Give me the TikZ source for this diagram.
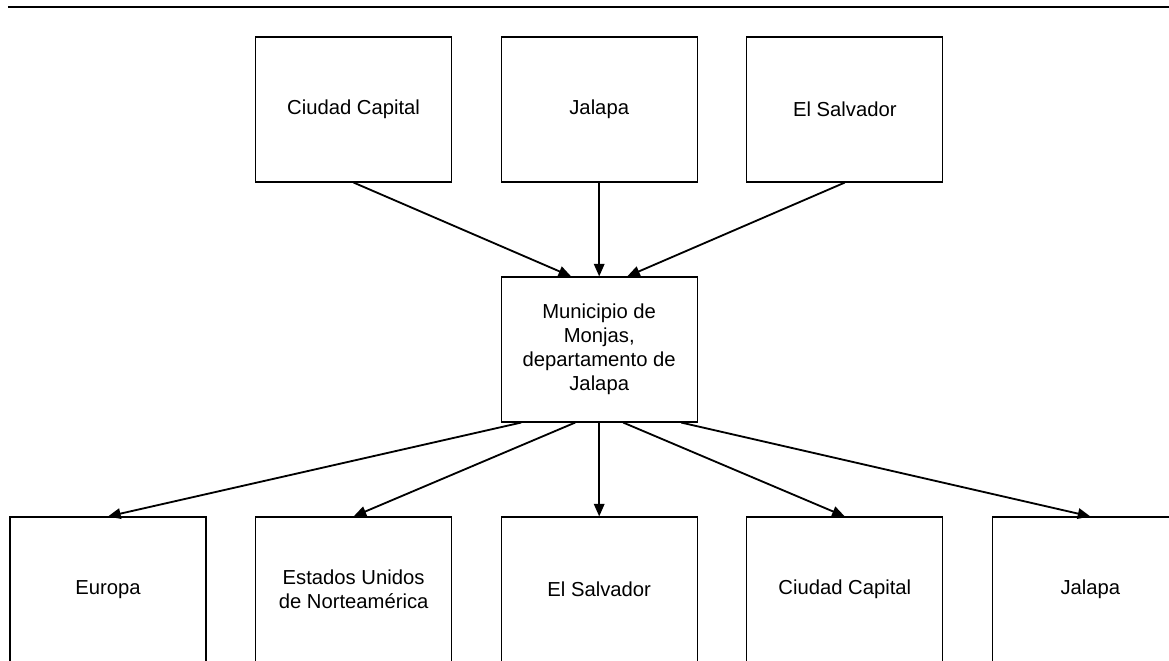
\documentclass[tikz,border=0pt]{standalone}
\usepackage{fontspec}
\setmainfont{Liberation Sans}
\usetikzlibrary{arrows.meta}

\tikzset{
  caja/.style={draw, line width=0.8pt, minimum width=4.9cm, minimum height=3.625cm,
    inner sep=0pt, align=center, font=\fontsize{14.4}{17}\selectfont},
  flecha/.style={line width=1.3pt, -{Triangle[length=9pt,width=7.5pt]}}
}

\begin{document}
\begin{tikzpicture}
        \clip (0,0) rectangle (29.225,-16.5);
        \draw[line width=1.6pt] (0.2,-0.175) -- (29.225,-0.175);
        % lugares de origen
        \node[caja] (oCapital) at (8.84,-2.7375) {Ciudad Capital};
        \node[caja] (oJalapa) at (14.98,-2.7375) {Jalapa};
        \node[caja] (oSalvador) at (21.12,-2.7375) {El Salvador};
        % municipio
        \node[caja] (monjas) at (14.98,-8.7375) {Municipio de\\Monjas,\\departamento de\\Jalapa};
        % destinos
        \node[caja] (dEuropa) at (2.7,-14.7375) {Europa};
        \node[caja] (dEEUU) at (8.84,-14.7375) {Estados Unidos\\de Norteamérica};
        \node[caja] (dSalvador) at (14.98,-14.7375) {El Salvador};
        \node[caja] (dCapital) at (21.12,-14.7375) {Ciudad Capital};
        \node[caja] (dJalapa) at (27.26,-14.7375) {Jalapa};
        \draw[flecha] (oCapital.south) -- ([xshift=-0.7cm]monjas.north);
        \draw[flecha] (oJalapa.south) -- (monjas.north);
        \draw[flecha] (oSalvador.south) -- ([xshift=0.7cm]monjas.north);
        \draw[flecha] ([xshift=-1.95cm]monjas.south) -- (dEuropa.north);
        \draw[flecha] ([xshift=-0.6cm]monjas.south) -- (dEEUU.north);
        \draw[flecha] (monjas.south) -- (dSalvador.north);
        \draw[flecha] ([xshift=0.6cm]monjas.south) -- (dCapital.north);
        \draw[flecha] ([xshift=2.05cm]monjas.south) -- (dJalapa.north);
\end{tikzpicture}
\end{document}
